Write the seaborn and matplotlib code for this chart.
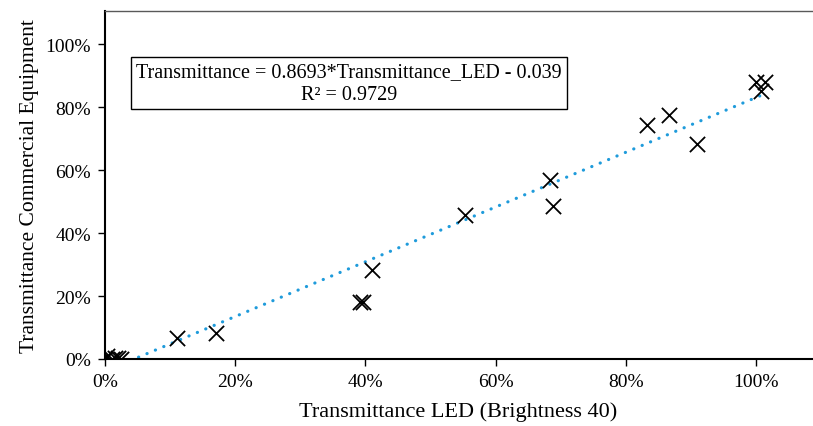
import numpy as np
import pandas as pd
import matplotlib
matplotlib.use("Agg")
import matplotlib.pyplot as plt
import seaborn as sns
from matplotlib.ticker import PercentFormatter

# Paired transmittance readings: LED device (x) vs commercial equipment (y)
led_transmittance = [0.000, 0.003, 0.010, 0.015, 0.020, 0.025,
                     0.110, 0.170, 0.391, 0.396, 0.410, 0.553,
                     0.683, 0.688, 0.832, 0.866, 0.909, 1.000, 1.007, 1.014]
commercial_transmittance = [0.000, 0.008, 0.000, 0.004, 0.002, 0.000,
                            0.066, 0.083, 0.180, 0.180, 0.284, 0.458,
                            0.569, 0.485, 0.744, 0.775, 0.682, 0.880, 0.852, 0.881]

# Linear trendline reported on the chart
slope = 0.8693
intercept = -0.039
r_squared = 0.9729

x_ticks = [0.0, 0.2, 0.4, 0.6, 0.8, 1.0]
y_ticks = [0.0, 0.2, 0.4, 0.6, 0.8, 1.0]

df = pd.DataFrame({"led": led_transmittance, "commercial": commercial_transmittance})

sns.set_theme(style="white")
plt.rcParams["font.family"] = ["Liberation Serif", "DejaVu Serif"]

fig = plt.figure(figsize=(8.13, 4.27), dpi=100)
ax = fig.add_axes([105 / 813, 1 - 360 / 427, (812 - 105) / 813, (360 - 12) / 427])

# Trendline over the data range
xs = np.linspace(min(led_transmittance), max(led_transmittance), 200)
ys = slope * xs + intercept
ax.plot(xs, ys, color="#1F9BDB", lw=2.3, linestyle=(0, (0.05, 2.8)),
        dash_capstyle="round", zorder=2)

sns.scatterplot(data=df, x="led", y="commercial", marker="x", color="black",
                s=120, linewidth=1.3, ax=ax, zorder=3)

ax.set_xlim(0, 1.086)
ax.set_ylim(0, 1.105)
ax.set_xticks(x_ticks)
ax.set_yticks(y_ticks)
ax.xaxis.set_major_formatter(PercentFormatter(1.0, decimals=0))
ax.yaxis.set_major_formatter(PercentFormatter(1.0, decimals=0))
ax.tick_params(axis="both", which="major", labelsize=14, colors="black",
               direction="out", length=5, width=1, bottom=True, left=True, pad=5)

ax.set_xlabel("Transmittance LED (Brightness 40)", fontsize=16, color="black", labelpad=8)
ax.set_ylabel("Transmittance Commercial Equipment", fontsize=15.5, color="black", labelpad=5)

for side in ["left", "bottom"]:
    ax.spines[side].set_color("black")
    ax.spines[side].set_linewidth(1.5)
ax.spines["top"].set_color("#595959")
ax.spines["top"].set_linewidth(1.0)
ax.spines["right"].set_visible(False)

ax.text(0.345, 0.793,
        f"Transmittance = {slope}*Transmittance_LED - {abs(intercept)}\nR² = {r_squared}",
        transform=ax.transAxes, ha="center", va="center", fontsize=14.5, color="black",
        linespacing=1.25,
        bbox=dict(boxstyle="square,pad=0.25", facecolor="white", edgecolor="black", linewidth=1.0))

fig.savefig("out.png", dpi=100)
